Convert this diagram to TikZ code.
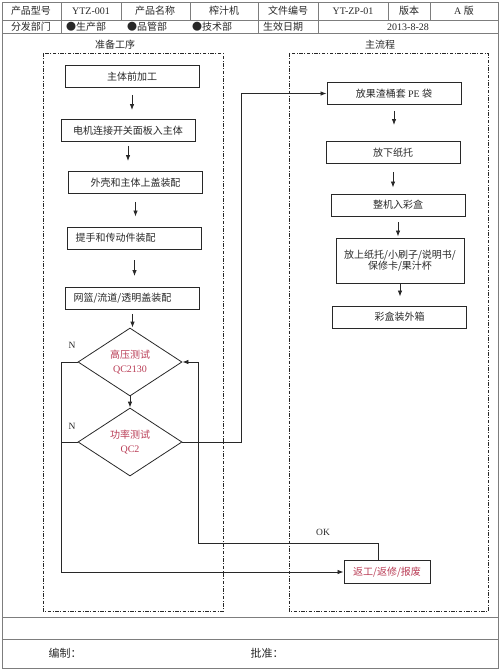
\documentclass[tikz,border=0pt]{standalone}
\usepackage{fontspec}
\setmainfont{Noto Sans CJK SC}
\newfontfamily\lat{Liberation Serif}
\usetikzlibrary{shapes.geometric,arrows.meta}
\definecolor{ink}{RGB}{40,40,40}
\definecolor{rule}{RGB}{125,125,125}
\definecolor{qcred}{RGB}{185,60,85}

\begin{document}
\begin{tikzpicture}[x=1pt, y=-1pt, font=\fontsize{10}{11}\selectfont, text=ink,
  proc/.style={rectangle, draw=ink, line width=0.9pt, minimum width=134pt, minimum height=22pt, inner sep=2pt},
  lproc/.style={proc, text width=118pt, align=left, inner xsep=8pt},
  test/.style={diamond, draw=ink, line width=0.8pt, minimum width=104pt, minimum height=68pt, inner sep=0pt, align=center, text=qcred, font=\fontsize{10}{14}\selectfont},
  flow/.style={-{Latex[length=6pt,width=4.5pt]}, line width=0.8pt, draw=ink},
  link/.style={line width=0.8pt, draw=ink},
  frame/.style={draw=ink, line width=0.9pt, dash pattern=on 3.5pt off 1.5pt on 1pt off 1.5pt},
  tag/.style={font=\lat\fontsize{9.5}{10}\selectfont}]
\useasboundingbox (0,0) rectangle (500,670);

%Form
\draw[rule, line width=1pt] (2,2) rectangle (498,668);
\foreach \y in {20,33,617,639} \draw[rule, line width=1pt] (2,\y) -- (498,\y);
\foreach \x in {61,121,190,258,318,388,430} \draw[rule] (\x,2) -- (\x,20);
\foreach \x in {61,258,318} \draw[rule] (\x,20) -- (\x,33);

\foreach \x/\t [count=\i] in {31/产品型号, 91/{\lat YTZ-001}, 155/产品名称, 224/榨汁机, 288/文件编号, 353/{\lat YT-ZP-01}, 409/版本, 464/{{\lat A }版}}
  \node (head\i) at (\x,11) {\t};
\node (dept)  at (31,27) {分发部门};
\foreach \x/\t [count=\i] in {66/●生产部, 127/●品管部, 192/●技术部, 263/生效日期}
  \node[anchor=west, inner xsep=0pt] (dept\i) at (\x,27) {\t};
\node (date) at (408,27) {\lat 2013-8-28};

\draw[frame] (43,53) rectangle (223,611);
\draw[frame] (289,53) rectangle (488,611);
\node (prep) at (115,45) {准备工序};
\node (main) at (380,45) {主流程};

%Nodes
\node[proc]  (pre)   at (132,76.5)   {主体前加工};
\node[proc]  (motor) at (128,130.5)  {电机连接开关面板入主体};
\node[proc]  (shell) at (135.5,182.5) {外壳和主体上盖装配};
\node[lproc] (grip)  at (134.5,238)  {提手和传动件装配};
\node[lproc] (lid)   at (132.5,298.5) {网篮/流道/透明盖装配};
\node[test]  (hv)    at (130,362)    {高压测试\\{\lat QC2130}};
\node[test]  (pw)    at (130,442)    {功率测试\\{\lat QC2}};

\node[proc] (bag)    at (394,93.5)   {放果渣桶套 {\lat PE} 袋};
\node[proc] (tray)   at (393,152.5)  {放下纸托};
\node[proc] (pack)   at (398,205)    {整机入彩盒};
\node[proc, minimum width=128pt, minimum height=45pt, align=center] (acc) at (400,260.5) {放上纸托/小刷子/说明书/\\保修卡/果汁杯};
\node[proc] (carton) at (399.5,317)  {彩盒装外箱};
\node[proc, minimum width=86pt, minimum height=23pt, text=qcred] (rework) at (387,572) {返工/返修/报废};

\coordinate (nleft) at (61,362);
\coordinate (up)    at (241,442);
\coordinate (ok)    at (378,543);
\coordinate (back)  at (198,543);

%Lines
\foreach \a/\b/\s/\e in {pre/motor/7/9, motor/shell/4/10, shell/grip/8/10, grip/lid/11/11, lid/hv/4/0,
                         bag/tray/6/16, tray/pack/8/6, pack/acc/6/1, acc/carton/0/9}
  \draw[flow, shorten <=\s pt, shorten >=\e pt] (\a.south) -- (\a.south |- \b.north);
\draw[flow] (hv.south) -- (pw.north);

\draw[flow] (hv.west) -- (nleft) |- (rework.west);
\draw[link] (pw.west) -- (pw.west -| nleft);
\draw[flow] (pw.east) -- (up) |- (bag.west);
\draw[flow] (rework.north -| ok) -- (ok) -- (back) |- (hv.east);

\node[tag] (n1) at (72,345) {N};
\node[tag] (n2) at (72,426) {N};
\node[tag] (pass) at (323,532) {OK};

\node[anchor=west, font=\fontsize{11}{12}\selectfont] (maker) at (45,653) {编制：};
\node[anchor=west, font=\fontsize{11}{12}\selectfont] (check) at (247,653) {批准：};
\end{tikzpicture}
\end{document}
